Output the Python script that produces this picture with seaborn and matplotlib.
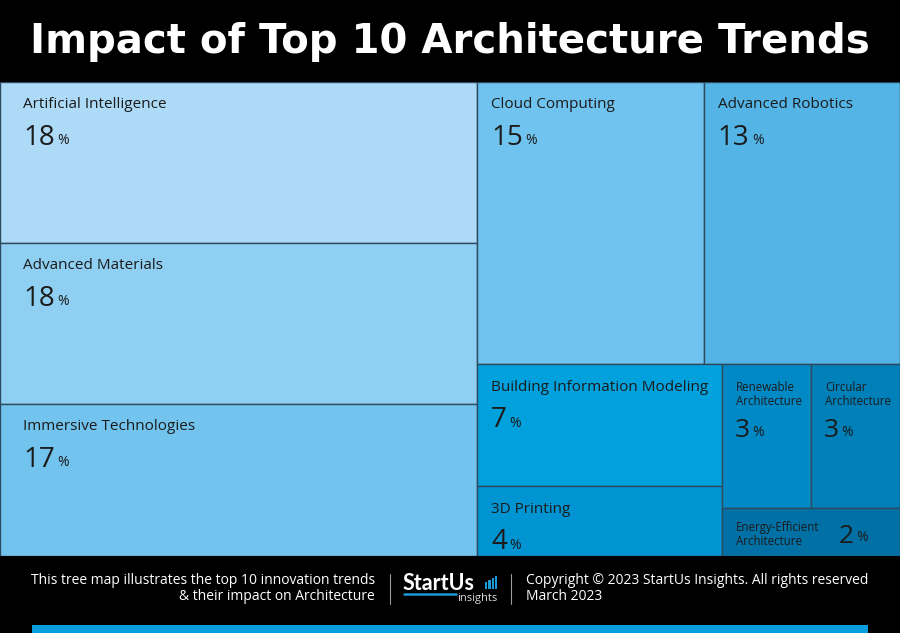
import matplotlib
matplotlib.use("Agg")
import matplotlib.pyplot as plt
import seaborn as sns
from matplotlib.patches import Rectangle

# data
trends = ["Artificial Intelligence", "Advanced Materials", "Immersive Technologies",
          "Cloud Computing", "Advanced Robotics", "Building Information Modeling",
          "3D Printing", "Renewable\nArchitecture", "Circular\nArchitecture",
          "Energy-Efficient\nArchitecture"]
impact = [18, 18, 17, 15, 13, 7, 4, 3, 3, 2]
tile_colors = ["#acdaf7", "#8fcff2", "#72c4ee", "#70c3ee", "#53b4e5",
               "#00a1dd", "#0094d2", "#0089c5", "#0080b9", "#0070a5"]

# nested split structure of the tiles ('h' = side by side, 'v' = stacked)
layout = ("h", [("v", [0, 1, 2]),
                ("v", [("h", [3, 4]),
                       ("h", [("v", [5, 6]),
                              ("v", [("h", [7, 8]), 9])])])])


def total(node):
    if isinstance(node, int):
        return impact[node]
    return sum(total(c) for c in node[1])


def place(node, x, y, w, h, out):
    if isinstance(node, int):
        out[node] = (x, y, w, h)
        return
    kind, children = node
    s = total(node)
    pos = 0.0
    for c in children:
        frac = total(c) / s
        if kind == "h":
            place(c, x + pos * w, y, w * frac, h, out)
        else:
            place(c, x, y + pos * h, w, h * frac, out)
        pos += frac


rects = {}
place(layout, 0.0, 0.0, 1.0, 1.0, rects)

sns.set_theme(style="white")
plt.rcParams["font.family"] = ["Open Sans", "DejaVu Sans"]

W, H = 900, 633
fig = plt.figure(figsize=(9, 6.33), dpi=100, facecolor="black")
top_px, bot_px = 82, 556
ax = fig.add_axes([0, 1 - bot_px / H, 1, (bot_px - top_px) / H])
ax.set_xlim(0, 1)
ax.set_ylim(1, 0)
ax.axis("off")

PT = 0.72  # points per pixel
txt = "#1b1b1b"
for i, name in enumerate(trends):
    x, y, w, h = rects[i]
    ax.add_patch(Rectangle((x, y), w, h, facecolor=tile_colors[i],
                           edgecolor="#2e4a5e", linewidth=1.0))
    wpx = w * W
    hpx = h * (bot_px - top_px)
    pad = 23 if x == 0 else 14
    if hpx < 60:
        # short tile: label left, number on the right
        lab = ax.annotate(name, (x, y), xytext=(pad * PT, -26 * PT),
                          textcoords="offset points", fontsize=8.3, color=txt,
                          va="center", ha="left", linespacing=1.1)
        num = ax.annotate(str(impact[i]), (1, y), xycoords=(lab, "data"),
                          xytext=(19 * PT, -35 * PT), textcoords="offset points",
                          fontsize=19, color=txt, va="baseline", ha="left")
    elif wpx < 120:
        ax.annotate(name, (x, y), xytext=(pad * PT, -30 * PT),
                    textcoords="offset points", fontsize=8.3, color=txt,
                    va="center", ha="left", linespacing=1.1)
        num = ax.annotate(str(impact[i]), (x, y), xytext=((pad - 1) * PT, -73 * PT),
                          textcoords="offset points", fontsize=19, color=txt,
                          va="baseline", ha="left")
    else:
        ax.annotate(name, (x, y), xytext=(pad * PT, -23 * PT),
                    textcoords="offset points", fontsize=11, color=txt,
                    va="center", ha="left")
        num = ax.annotate(str(impact[i]), (x, y), xytext=(pad * PT, -63 * PT),
                          textcoords="offset points", fontsize=20, color=txt,
                          va="baseline", ha="left")
    ax.annotate("%", (1, 0), xycoords=num, xytext=(2, 2.6),
                textcoords="offset points", fontsize=10, color=txt,
                va="bottom", ha="left")

# title
fig.text(0.5, 1 - 42 / H, "Impact of Top 10 Architecture Trends", ha="center",
         va="center", color="white", fontsize=29, fontweight="bold",
         family=["DejaVu Sans"])

# footer
ft = 10
fig.text(375 / W, 1 - 580 / H, "This tree map illustrates the top 10 innovation trends",
         ha="right", va="center", color="white", fontsize=ft)
fig.text(375 / W, 1 - 596 / H, "& their impact on Architecture",
         ha="right", va="center", color="white", fontsize=ft)
fig.text(526 / W, 1 - 580 / H, "Copyright \u00a9 2023 StartUs Insights. All rights reserved",
         ha="left", va="center", color="white", fontsize=ft)
fig.text(526 / W, 1 - 596 / H, "March 2023",
         ha="left", va="center", color="white", fontsize=ft)
for sx in (390, 511):
    fig.add_artist(plt.Line2D([sx / W, sx / W], [1 - 574 / H, 1 - 604 / H],
                              color="#9a9a9a", linewidth=0.8))

# logo
fig.text(403 / W, 1 - 590 / H, "StartUs", ha="left", va="baseline", color="white",
         fontsize=15.5, fontweight="bold", family=["Lato", "DejaVu Sans"])
for k, bh in enumerate([7, 9, 11, 13]):
    fig.add_artist(Rectangle(((485 + k * 3.4) / W, 1 - 589 / H), 2.3 / W, bh / H,
                             facecolor="#1a9ad6", edgecolor="none"))
fig.add_artist(plt.Line2D([404 / W, 456 / W], [1 - 594 / H, 1 - 594 / H],
                          color="#1a9ad6", linewidth=1.8))
fig.text(497 / W, 1 - 598.5 / H, "insights", ha="right", va="center", color="#dddddd",
         fontsize=8)

# blue strip at the bottom
fig.add_artist(Rectangle((32 / W, 0), 836 / W, 8 / H, facecolor="#0a9fdc",
                         edgecolor="none"))

fig.savefig("out.png", dpi=100, facecolor="black")
